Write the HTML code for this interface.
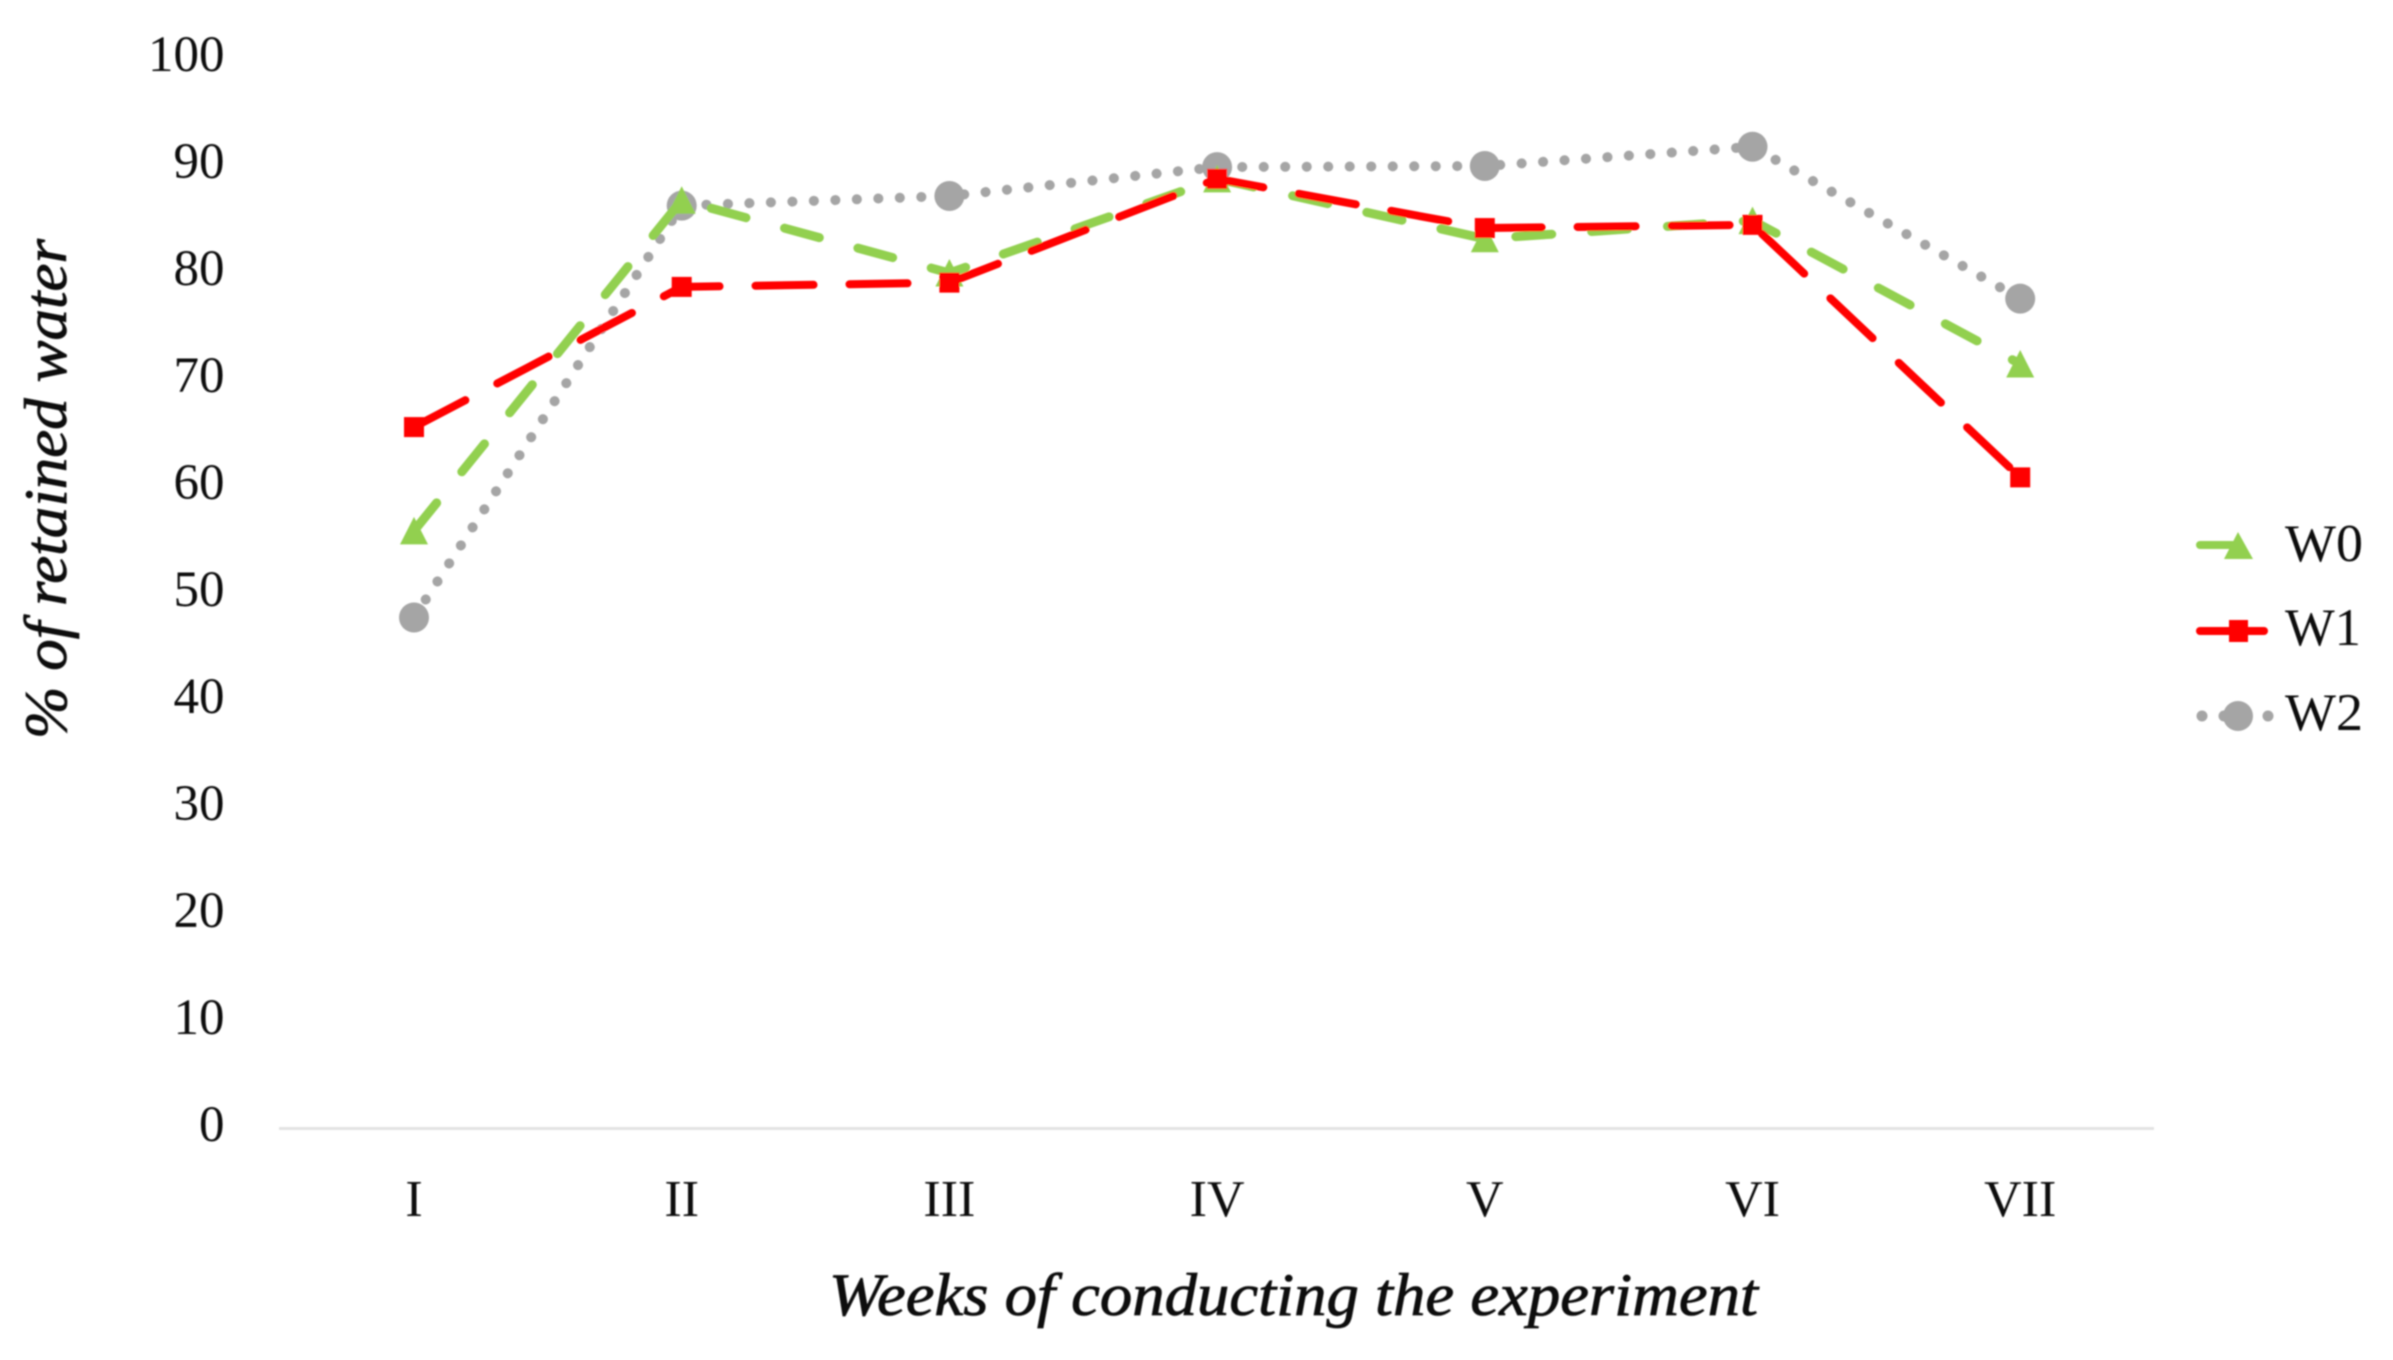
<!DOCTYPE html>
<html lang="en">
<head>
<meta charset="utf-8">
<title>Retained water chart</title>
<style>
html,body{margin:0;padding:0;background:#fff;width:2393px;height:1360px;overflow:hidden}
svg{display:block}
text{font-family:"Liberation Serif","DejaVu Serif",serif;fill:#111}
</style>
</head>
<body>
<svg id="chart" xmlns="http://www.w3.org/2000/svg" width="2393" height="1360" viewBox="0 0 2393 1360">
  <defs>
    <filter id="soft" x="-5%" y="-5%" width="110%" height="110%"><feGaussianBlur stdDeviation="0.7"/></filter>
  </defs>
  <rect x="0" y="0" width="2393" height="1360" fill="#ffffff"/>
  <g id="root" filter="url(#soft)">
    <line x1="279" y1="1128.5" x2="2154" y2="1128.5" stroke="#e3e3e3" stroke-width="3"/>
    <g id="y-ticks"></g>
    <g id="x-ticks"></g>
    <g id="series"></g>
    <text transform="translate(66 739) rotate(-90)" font-size="60" font-style="italic" textLength="500" lengthAdjust="spacingAndGlyphs" stroke="#111" stroke-width="0.8">% of retained water</text>
    <text x="829" y="1315" font-size="60" font-style="italic" textLength="929" lengthAdjust="spacingAndGlyphs" stroke="#111" stroke-width="0.8">Weeks of conducting the experiment</text>
    <g>
      <g>
        <line x1="2200" y1="545" x2="2235" y2="545" stroke="#92d050" stroke-width="8" stroke-linecap="round"/>
        <polygon points="2238,532 2253,559 2224,559" fill="#92d050"/>
        <text x="2285" y="561" font-size="53" textLength="78" lengthAdjust="spacingAndGlyphs">W0</text>
      </g>
      <g>
        <line x1="2200" y1="631" x2="2264" y2="631" stroke="#ff0000" stroke-width="8" stroke-linecap="round"/>
        <rect x="2229" y="620" width="19" height="22" fill="#ff0000"/>
        <text x="2285" y="645" font-size="53" textLength="76" lengthAdjust="spacingAndGlyphs">W1</text>
      </g>
      <g>
        <circle cx="2202" cy="716" r="5.5" fill="#a5a5a5"/>
        <circle cx="2224" cy="716" r="5.5" fill="#a5a5a5"/>
        <circle cx="2238" cy="716" r="15" fill="#a5a5a5"/>
        <circle cx="2268" cy="716" r="5.5" fill="#a5a5a5"/>
        <text x="2285" y="730" font-size="53" textLength="78" lengthAdjust="spacingAndGlyphs">W2</text>
      </g>
    </g>
  </g>
</svg>
<script>
const categories = ['I', 'II', 'III', 'IV', 'V', 'VI', 'VII'];
const yTickLabels = [0, 10, 20, 30, 40, 50, 60, 70, 80, 90, 100];
const w0Values = [55.9, 86.8, 80.0, 88.8, 83.2, 84.9, 71.5];
const w1Values = [65.6, 78.7, 79.1, 88.8, 84.2, 84.5, 60.9];
const w2Values = [47.8, 86.3, 87.2, 89.9, 90.0, 91.8, 77.6];

const NS = 'http://www.w3.org/2000/svg';
function xScale(i) { return 414 + 267.7 * i; }
function yScale(v) { return 1129 - 10.7 * v; }
function make(tag, attrs, parent) {
  const el = document.createElementNS(NS, tag);
  for (const k in attrs) el.setAttribute(k, attrs[k]);
  parent.appendChild(el);
  return el;
}

const yTicksGroup = document.getElementById('y-ticks');
yTickLabels.forEach(function (t) {
  const el = make('text', { x: 224.5, y: yScale(t) + 12, 'font-size': 51, 'text-anchor': 'end' }, yTicksGroup);
  
  
  el.textContent = t;
});

const xTicksGroup = document.getElementById('x-ticks');
categories.forEach(function (c, i) {
  const el = make('text', { x: xScale(i), y: 1216, 'font-size': 52, 'text-anchor': 'middle' }, xTicksGroup);
  
  
  el.textContent = c;
});

const seriesGroup = document.getElementById('series');

function linePoints(values) {
  return values.map(function (v, i) { return xScale(i) + ',' + yScale(v); }).join(' ');
}

const lineW2 = make('polyline', { points: linePoints(w2Values), fill: 'none', stroke: '#a5a5a5', 'stroke-width': 10, 'stroke-linecap': 'round', 'stroke-dasharray': '0.1 21.4' }, seriesGroup);


w2Values.forEach(function (v, i) {
  const m = make('circle', { cx: xScale(i), cy: yScale(v), r: 15, fill: '#a5a5a5' }, seriesGroup);
  
  
});

const lineW0 = make('polyline', { points: linePoints(w0Values), fill: 'none', stroke: '#92d050', 'stroke-width': 9, 'stroke-linecap': 'round', 'stroke-linejoin': 'round', 'stroke-dasharray': '36 40' }, seriesGroup);


w0Values.forEach(function (v, i) {
  const cx = xScale(i), cy = yScale(v);
  const pts = cx + ',' + (cy - 14) + ' ' + (cx + 14) + ',' + (cy + 13.5) + ' ' + (cx - 14) + ',' + (cy + 13.5);
  const m = make('polygon', { points: pts, fill: '#92d050' }, seriesGroup);
  
  
});

const lineW1 = make('polyline', { points: linePoints(w1Values), fill: 'none', stroke: '#ff0000', 'stroke-width': 8, 'stroke-linecap': 'round', 'stroke-linejoin': 'round', 'stroke-dasharray': '58 36' }, seriesGroup);


w1Values.forEach(function (v, i) {
  const m = make('rect', { x: xScale(i) - 10, y: yScale(v) - 10, width: 20, height: 20, fill: '#ff0000' }, seriesGroup);
  
  
});
</script>
</body>
</html>
